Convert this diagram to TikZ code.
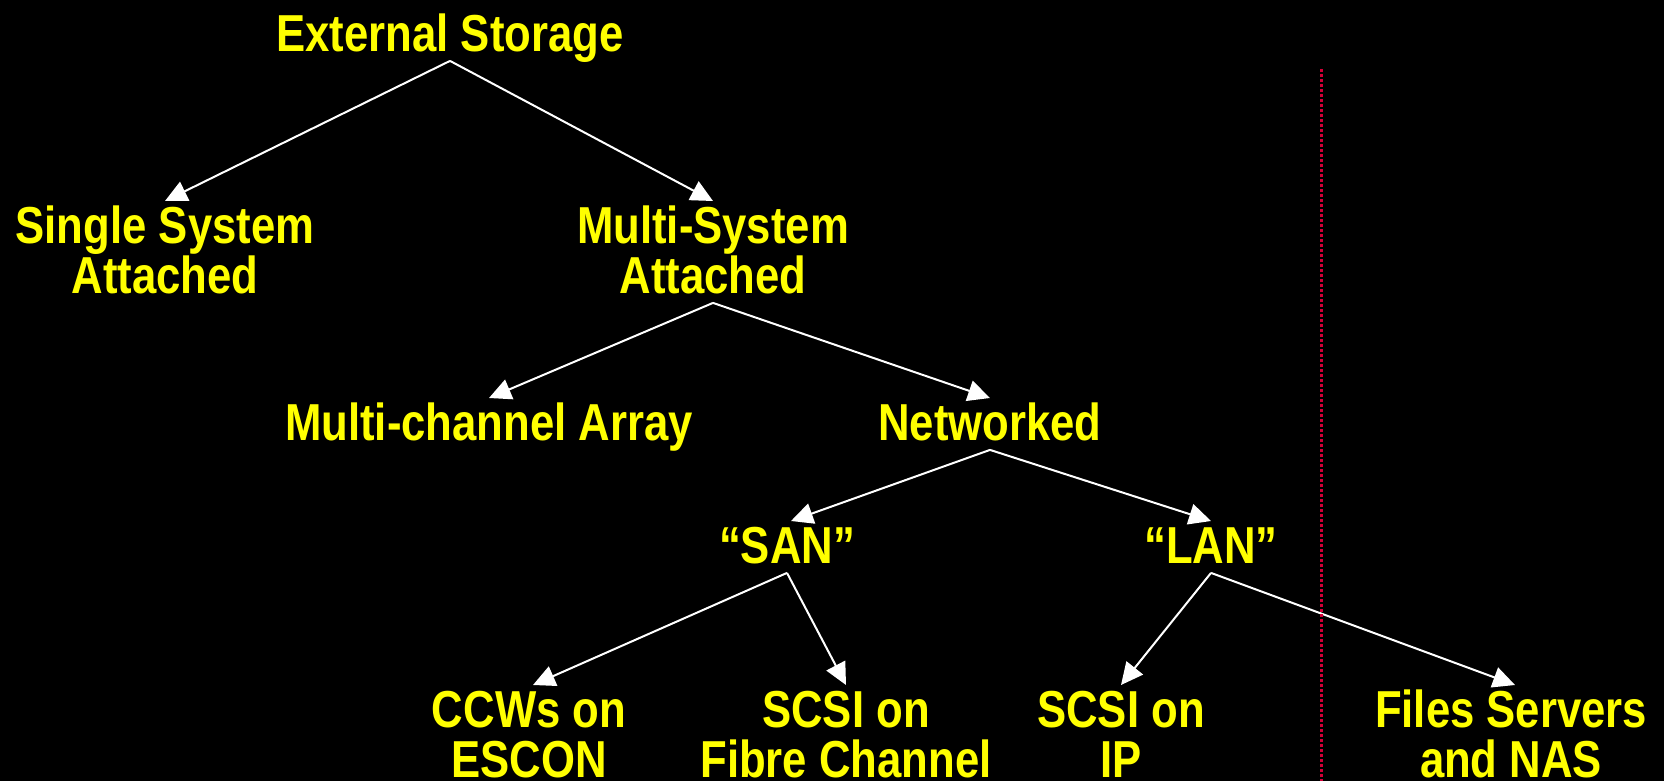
\documentclass[tikz,border=0pt]{standalone}
\usepackage{fontspec}
\newfontfamily\labelfont[FakeStretch=0.84]{Liberation Sans}
\usetikzlibrary{arrows.meta}
\definecolor{labelyellow}{RGB}{255,255,0}
\definecolor{dividerred}{RGB}{210,0,55}
% one text line: fixed cap-height strut, glyph extents ignored
\newcommand\capline[1]{\rule{0pt}{38pt}\smash{#1}}

\begin{document}
\begin{tikzpicture}[x=1pt,y=-1pt,
  lbl/.style={anchor=north, inner sep=0pt, align=center, text=labelyellow,
    font=\labelfont\bfseries\fontsize{52}{50}\selectfont},
  link/.style={draw=white, line width=2pt, line join=miter,
    -{Triangle[length=22pt,width=21pt]}},
  divider/.style={draw=dividerred, line width=3pt, dash pattern=on 3pt off 2pt}
]
\fill[black] (0,0) rectangle (1664,781);
\useasboundingbox (0,0) rectangle (1664,781);

% labels
\node[lbl] (ext)      at (450,13)  {\capline{External Storage}};
\node[lbl] (single)   at (165,205) {\capline{Single System}\\\capline{Attached}};
\node[lbl] (multi)    at (713,205) {\capline{Multi-System}\\\capline{Attached}};
\node[lbl] (mca)      at (489,402) {\capline{Multi-channel Array}};
\node[lbl] (net)      at (990,402) {\capline{Networked}};
\node[lbl] (san)      at (787,525) {\capline{“SAN”}};
\node[lbl] (lan)      at (1211,525) {\capline{“LAN”}};
\node[lbl] (ccw)      at (529,689) {\capline{CCWs on}\\\capline{ESCON}};
\node[lbl] (fc)       at (846,689) {\capline{SCSI on}\\\capline{Fibre Channel}};
\node[lbl] (ip)       at (1121,689) {\capline{SCSI on}\\\capline{IP}};
\node[lbl] (files)    at (1511,689) {\capline{Files Servers}\\\capline{and NAS}};

% tree connectors
\draw[link] ([yshift=-9.5pt]ext.south)   -- ([yshift=4pt]single.north);
\draw[link] ([yshift=-9.5pt]ext.south)   -- ([yshift=4pt]multi.north);
\draw[link] ([yshift=-9.5pt]multi.south) -- ([yshift=4pt]mca.north);
\draw[link] ([yshift=-9.5pt]multi.south) -- ([yshift=4pt]net.north);
\draw[link] ([yshift=-9.5pt]net.south)   -- ([xshift=4pt,yshift=4pt]san.north);
\draw[link] ([yshift=-9.5pt]net.south)   -- ([yshift=4pt]lan.north);
\draw[link] ([yshift=-9.5pt]san.south)   -- ([xshift=4pt,yshift=4pt]ccw.north);
\draw[link] ([yshift=-9.5pt]san.south)   -- ([yshift=4pt]fc.north);
\draw[link] ([yshift=-9.5pt]lan.south)   -- ([yshift=4pt]ip.north);
\draw[link] ([yshift=-9.5pt]lan.south)   -- ([xshift=4pt,yshift=4pt]files.north);

% dotted divider
\coordinate (divtop) at (1321,69);
\coordinate (divbot) at (1321,781);
\draw[divider] (divtop) -- (divbot);
\end{tikzpicture}
\end{document}
